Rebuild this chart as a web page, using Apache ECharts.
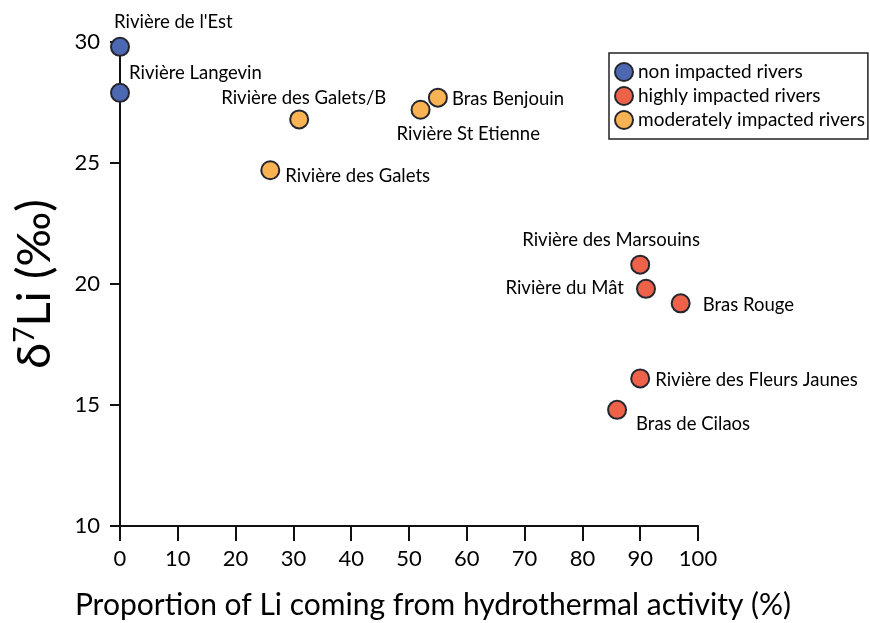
<!DOCTYPE html>
<html>
<head>
<meta charset="utf-8">
<script src="https://cdn.jsdelivr.net/npm/echarts@6/dist/echarts.min.js"></script>
<style>
  html, body { margin: 0; padding: 0; background: #fff; }
  #chart { width: 870px; height: 623px; }
</style>
</head>
<body>
<div id="chart"></div>
<script>
// rivers: [proportion hydrothermal (%), d7Li (permil)]
const nonImpactedNames = ["Rivière de l'Est", 'Rivière Langevin']
const nonImpactedValues = [[0, 29.8], [0, 27.9]]

const highlyImpactedNames = ['Rivière des Marsouins', 'Rivière du Mât', 'Bras Rouge', 'Rivière des Fleurs Jaunes', 'Bras de Cilaos']
const highlyImpactedValues = [[90, 20.8], [91, 19.8], [97, 19.2], [90, 16.1], [86, 14.8]]

const moderateNames = ['Rivière des Galets/B', 'Rivière des Galets', 'Rivière St Etienne', 'Bras Benjouin']
const moderateValues = [[31, 26.8], [26, 24.7], [52, 27.2], [55, 27.7]]

const xTicks = [0, 10, 20, 30, 40, 50, 60, 70, 80, 90, 100]
const yTicks = [10, 15, 20, 25, 30]

// label offset from marker centre: [dx, dy, align]
const labelOffsets = {
    "Rivière de l'Est": [-5, -24, 'left'],
    'Rivière Langevin': [10, -19, 'left'],
    'Rivière des Galets/B': [-77, -20, 'left'],
    'Rivière des Galets': [16, 7, 'left'],
    'Rivière St Etienne': [-23, 25, 'left'],
    'Bras Benjouin': [15, 2, 'left'],
    'Rivière des Marsouins': [-117, -24, 'left'],
    'Rivière du Mât': [-21, 0, 'right'],
    'Bras Rouge': [23, 3, 'left'],
    'Rivière des Fleurs Jaunes': [16, 3, 'left'],
    'Bras de Cilaos': [20, 15, 'left']
}

const FONT = 'Lato'
const SYM = 18

const toPoints = (names, values) => names.map((n, i) => {
    const [dx, dy, align] = labelOffsets[n]
    return {
        name: n,
        value: values[i],
        label: {
            show: true,
            formatter: n,
            position: [SYM / 2 + dx, SYM / 2 + dy],
            align,
            verticalAlign: 'middle',
            fontFamily: FONT,
            fontSize: 18.5,
            color: '#000'
        }
    }
})

const makeSeries = (name, color, names, values) => ({
    name,
    type: 'scatter',
    symbol: 'circle',
    symbolSize: SYM,
    itemStyle: { color, opacity: 1, borderColor: '#26262e', borderWidth: 2 },
    data: toPoints(names, values),
    z: 3
})

const chart = echarts.init(document.getElementById('chart'))
chart.setOption({
    animation: false,
    backgroundColor: '#fff',
    grid: { left: 120, right: 172, top: 42, bottom: 97, containLabel: false, outerBoundsMode: 'none' },
    legend: {
        orient: 'vertical',
        left: 609,
        top: 53,
        padding: [9, 3, 9, 5],
        itemGap: 4,
        itemWidth: 18,
        itemHeight: 18,
        borderColor: '#222',
        borderWidth: 1.5,
        textStyle: { fontFamily: FONT, fontSize: 19, color: '#000' },
        data: ['non impacted rivers', 'highly impacted rivers', 'moderately impacted rivers']
    },
    xAxis: {
        type: 'value',
        min: 0,
        max: 100,
        interval: 10,
        name: 'Proportion of Li coming from hydrothermal activity (%)',
        nameLocation: 'middle',
        nameGap: 64,
        nameTextStyle: { fontFamily: FONT, fontSize: 30, color: '#000', padding: [0, 0, 0, 48] },
        axisLine: { onZero: false, lineStyle: { color: '#111', width: 2 } },
        axisTick: { show: true, inside: false, length: 15, lineStyle: { color: '#111', width: 2 } },
        axisLabel: {
            fontFamily: FONT, fontSize: 22, color: '#000', margin: 22,
            formatter: v => xTicks.includes(v) ? String(v) : ''
        },
        splitLine: { show: false }
    },
    yAxis: {
        type: 'value',
        min: 10,
        max: 30,
        interval: 5,
        name: '{d|δ}{s|7}{d|Li (‰)}',
        nameLocation: 'middle',
        nameGap: 62,
        nameRotate: 90,
        nameTextStyle: {
            rich: {
                d: { fontFamily: FONT, fontSize: 47, color: '#000' },
                s: { fontFamily: FONT, fontSize: 28, color: '#000', verticalAlign: 'top', padding: [0, 0, 18, 0] }
            }
        },
        axisLine: { onZero: false, lineStyle: { color: '#111', width: 2 } },
        axisTick: { show: true, inside: false, length: 10, lineStyle: { color: '#111', width: 2 } },
        axisLabel: {
            fontFamily: FONT, fontSize: 22, color: '#000', margin: 20,
            formatter: v => yTicks.includes(v) ? String(v) : ''
        },
        splitLine: { show: false }
    },
    series: [
        makeSeries('non impacted rivers', '#4d68b3', nonImpactedNames, nonImpactedValues),
        makeSeries('highly impacted rivers', '#ef624a', highlyImpactedNames, highlyImpactedValues),
        makeSeries('moderately impacted rivers', '#fab352', moderateNames, moderateValues)
    ]
})
</script>
</body>
</html>
